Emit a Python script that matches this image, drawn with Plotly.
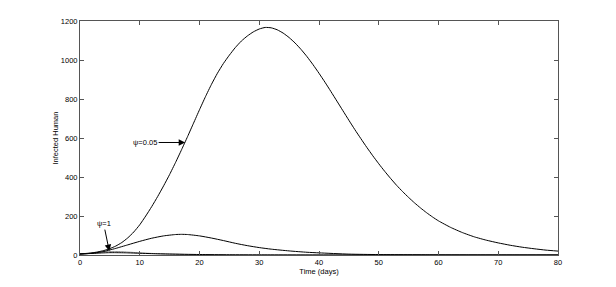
import plotly.graph_objects as go

# --- data ---
days_a = [0,1,2,3,4,5,6,7,8,9,10,11,12,13,14,15,16,17,18,19,20,21,22,23,24,25,26,27,28,29,30,31,32,
          33,34,35,36,37,38,39,40,41,42,43,44,45,46,47,48,49,50,51,52,53,54,55,56,57,58,59,60,
          62,64,66,68,70,72,74,76,78,80]
infected_psi005 = [6,8,11,16,23,33,46,64,88,118,155,200,248,300,355,413,475,540,607,676,745,812,875,932,982,1025,1064,1097,1123,1144,1159,1167,1165,
                   1155,1138,1115,1087,1054,1017,976,932,886,838,789,740,691,643,597,552,509,468,429,392,357,325,295,267,241,217,195,175,
                   142,115,93,76,62,50,40,32,25,20]

days_b = [0,2,4,5,6,8,10,12,14,16,17,18,20,22,24,26,28,30,32,35,38,40,45,50,60,70,80]
infected_psi_mid = [5,9,18,26,34,52,70,86,98,105,106,105,98,87,74,60,48,38,30,21,14,11,4.5,2.2,0.6,0.2,0.1]

days_c = [0,2,4,5,6,8,10,12,15,20,25,30,40,60,80]
infected_psi1 = [5,8,11,12,12,11,9,7,5,2.5,1.2,0.6,0.15,0,0]

days_d = [0,2,3,4,5,6,7,8,10,12,15,20,25,30,40,80]
infected_psi_gray = [5,9,13,16,18,18,17,15,11,8,4.5,1.5,0.5,0.2,0,0]

x_ticks = [0,10,20,30,40,50,60,70,80]
y_ticks = [0,200,400,600,800,1000,1200]

FONT = "Liberation Sans, Arial, Helvetica, sans-serif"

fig = go.Figure()
fig.add_trace(go.Scatter(x=days_d, y=infected_psi_gray, mode="lines",
                         line=dict(color="#8c8c8c", width=1, shape="spline", smoothing=0.6)))
fig.add_trace(go.Scatter(x=days_c, y=infected_psi1, mode="lines",
                         line=dict(color="black", width=1, shape="spline", smoothing=0.6)))
fig.add_trace(go.Scatter(x=days_b, y=infected_psi_mid, mode="lines",
                         line=dict(color="black", width=1, shape="spline", smoothing=0.6)))
fig.add_trace(go.Scatter(x=days_a, y=infected_psi005, mode="lines",
                         line=dict(color="black", width=1, shape="spline", smoothing=0.5)))

fig.add_annotation(x=17.6, y=577, ax=10.9, ay=577, axref="x", ayref="y",
                   text="ψ=0.05", showarrow=True, arrowhead=2, arrowsize=1.3, arrowwidth=1,
                   arrowcolor="black", font=dict(family=FONT, size=7.5, color="black"))
fig.add_annotation(x=4.9, y=20, ax=3.95, ay=161, axref="x", ayref="y",
                   text="ψ=1", showarrow=True, arrowhead=2, arrowsize=1.3, arrowwidth=1,
                   arrowcolor="black", font=dict(family=FONT, size=7.5, color="black"))

axis_common = dict(showgrid=False, zeroline=False, showline=True, linecolor="#555555", linewidth=1,
                   mirror="allticks", ticks="inside", ticklen=4, tickcolor="#555555", automargin=False,
                   tickfont=dict(family=FONT, size=7.5, color="black"))
fig.update_xaxes(range=[0, 80], tickvals=x_ticks, ticktext=[str(v) for v in x_ticks],
                 title=dict(text="Time (days)", font=dict(family=FONT, size=7.5, color="black"), standoff=0),
                 **axis_common)
fig.update_yaxes(range=[0, 1200], tickvals=y_ticks, ticktext=[str(v) for v in y_ticks],
                 title=dict(text="Infected Human", font=dict(family=FONT, size=7.5, color="black"), standoff=1),
                 **axis_common)

# page body has an 8px margin, so the figure is drawn 8px in from the window's corner
fig.update_layout(width=600, height=271, showlegend=False,
                  paper_bgcolor="white", plot_bgcolor="white",
                  margin=dict(l=72, r=50, t=13, b=24))

fig.write_html("out.html")
